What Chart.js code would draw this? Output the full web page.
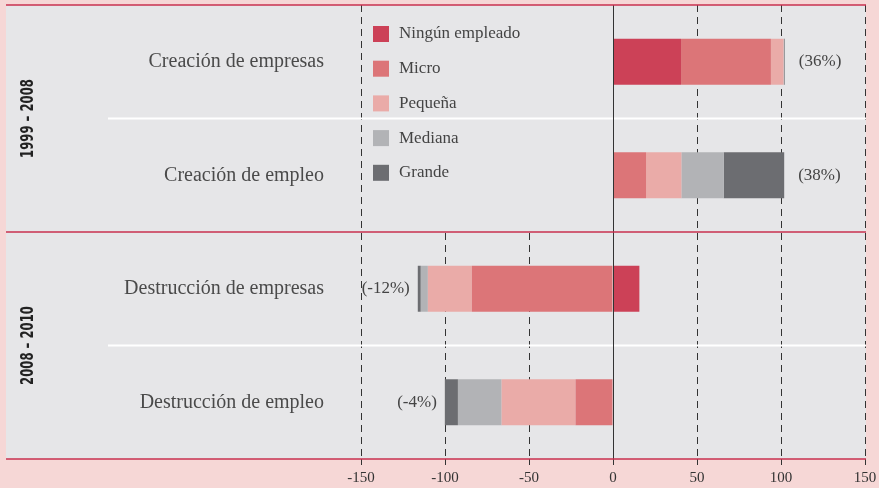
<!DOCTYPE html>
<html>
<head>
<meta charset="utf-8">
<script src="https://cdn.jsdelivr.net/npm/chart.js@4"></script>
<style>
  body { margin: 0; background: #f6d7d6; }
  canvas { display: block; }
</style>
</head>
<body>
<canvas id="chart" width="879" height="488"></canvas>
<script>
const categories = ['Creación de empresas', 'Creación de empleo', 'Destrucción de empresas', 'Destrucción de empleo'];
const periods = ['1999 – 2008', '2008 – 2010'];
const pctLabels = ['(36%)', '(38%)', '(-12%)', '(-4%)'];

const ningun = [40.5, 0, 15.7, 0];
const micro = [53.5, 19.7, -84, -22.3];
const pequena = [7.5, 21, -26.2, -44];
const mediana = [0.4, 25.2, -4.2, -26];
const grande = [0.4, 36, -1.8, -7.8];

const xTicks = [-150, -100, -50, 0, 50, 100, 150];

const serif = '"Liberation Serif", "DejaVu Serif", serif';
const panel = '#e6e6e8';

// background panel, separators, red rules, labels, legend
const decor = {
  id: 'decor',
  beforeDraw(chart) {
    const { ctx, chartArea: a } = chart;
    ctx.save();
    ctx.fillStyle = panel;
    ctx.fillRect(6, a.top, a.right + 1 - 6, a.bottom - a.top);
    ctx.restore();
  },
  beforeDatasetsDraw(chart) {
    const { ctx, chartArea: a, scales } = chart;
    const x = scales.x, y = scales.y;
    const mid = (y.getPixelForValue(1) + y.getPixelForValue(2)) / 2;
    ctx.save();
    // legend box hides grid lines in the upper half
    ctx.fillStyle = panel;
    const lx = x.getPixelForValue(-150) + 1;
    ctx.fillRect(lx, a.top, x.getPixelForValue(0) - 1 - lx, mid - a.top);
    // white separators inside each period
    ctx.strokeStyle = '#ffffff';
    ctx.lineWidth = 2;
    [[0, 1], [2, 3]].forEach(([i, j]) => {
      const yy = (y.getPixelForValue(i) + y.getPixelForValue(j)) / 2;
      ctx.beginPath();
      ctx.moveTo(108, yy);
      ctx.lineTo(a.right + 1, yy);
      ctx.stroke();
    });
    ctx.restore();
  },
  afterDatasetsDraw(chart) {
    const { ctx, chartArea: a, scales } = chart;
    const x = scales.x, y = scales.y;
    ctx.save();
    // zero line
    const x0 = x.getPixelForValue(0);
    ctx.strokeStyle = '#333';
    ctx.lineWidth = 1;
    ctx.beginPath();
    ctx.moveTo(Math.round(x0) + 0.5, a.top);
    ctx.lineTo(Math.round(x0) + 0.5, a.bottom + 6);
    ctx.stroke();

    // red rules
    const mid = (y.getPixelForValue(1) + y.getPixelForValue(2)) / 2;
    ctx.strokeStyle = '#c9304f';
    ctx.lineWidth = 1.5;
    [a.top, mid, a.bottom].forEach(yy => {
      ctx.beginPath();
      ctx.moveTo(6, yy);
      ctx.lineTo(a.right + 1, yy);
      ctx.stroke();
    });

    // period labels, rotated
    const groups = [[a.top, mid], [mid, a.bottom]];
    ctx.fillStyle = '#222';
    ctx.font = 'bold 18px "DejaVu Sans Condensed", "DejaVu Sans", sans-serif';
    ctx.textAlign = 'center';
    ctx.textBaseline = 'middle';
    periods.forEach((p, i) => {
      const cy = (groups[i][0] + groups[i][1]) / 2;
      ctx.save();
      ctx.translate(27, cy);
      ctx.rotate(-Math.PI / 2);
      ctx.scale(0.72, 1);
      ctx.fillText(p, 0, 1);
      ctx.restore();
    });

    // percent labels next to bars
    ctx.fillStyle = '#444';
    ctx.font = '17px ' + serif;
    const sets = chart.data.datasets;
    pctLabels.forEach((t, i) => {
      let pos = 0, neg = 0;
      sets.forEach(d => { const v = d.data[i]; if (v > 0) pos += v; else neg += v; });
      const cy = y.getPixelForValue(i);
      if (i < 2) {
        ctx.textAlign = 'left';
        ctx.fillText(t, x.getPixelForValue(pos) + 14, cy);
      } else {
        ctx.textAlign = 'right';
        ctx.fillText(t, x.getPixelForValue(neg) - 8, cy);
      }
    });

    // legend
    ctx.font = '17px ' + serif;
    ctx.textAlign = 'left';
    sets.forEach((d, i) => {
      const cy = 34 + i * 34.7;
      ctx.fillStyle = d.backgroundColor;
      ctx.fillRect(373, cy - 8, 16, 16);
      ctx.fillStyle = '#444';
      ctx.fillText(d.label, 399, cy);
    });
    ctx.restore();
  }
};

new Chart(document.getElementById('chart'), {
  type: 'bar',
  data: {
    labels: categories,
    datasets: [
      { label: 'Ningún empleado', data: ningun, backgroundColor: '#cc4157' },
      { label: 'Micro', data: micro, backgroundColor: '#dc7578' },
      { label: 'Pequeña', data: pequena, backgroundColor: '#eaaba8' },
      { label: 'Mediana', data: mediana, backgroundColor: '#b2b3b6' },
      { label: 'Grande', data: grande, backgroundColor: '#6c6d71' }
    ]
  },
  options: {
    indexAxis: 'y',
    responsive: false,
    animation: false,
    devicePixelRatio: 1,
    barPercentage: 0.405,
    categoryPercentage: 1,
    layout: { padding: { top: 5, right: 14, left: 6, bottom: 0 } },
    plugins: { legend: { display: false }, tooltip: { enabled: false } },
    scales: {
      x: {
        stacked: true,
        min: -150,
        max: 150,
        afterBuildTicks: s => { s.ticks = xTicks.map(v => ({ value: v })); },
        afterFit: s => { s.height = 29; s.paddingLeft = 0; s.paddingRight = 0; },
        grid: {
          color: c => (c.tick && c.tick.value === 0 ? 'rgba(0,0,0,0)' : '#333'),
          lineWidth: 1,
          drawTicks: true,
          tickLength: 6
        },
        border: { display: false, dash: [7, 5] },
        ticks: {
          color: '#333',
          padding: 4,
          font: { family: serif, size: 15 },
          maxRotation: 0
        }
      },
      y: {
        stacked: true,
        afterFit: s => { s.width = 355; s.paddingTop = 0; s.paddingBottom = 0; },
        grid: { display: false, drawTicks: false },
        border: { display: false },
        ticks: {
          color: '#4a4a4a',
          padding: 37,
          font: { family: serif, size: 20 }
        }
      }
    }
  },
  plugins: [decor]
});
</script>
</body>
</html>
